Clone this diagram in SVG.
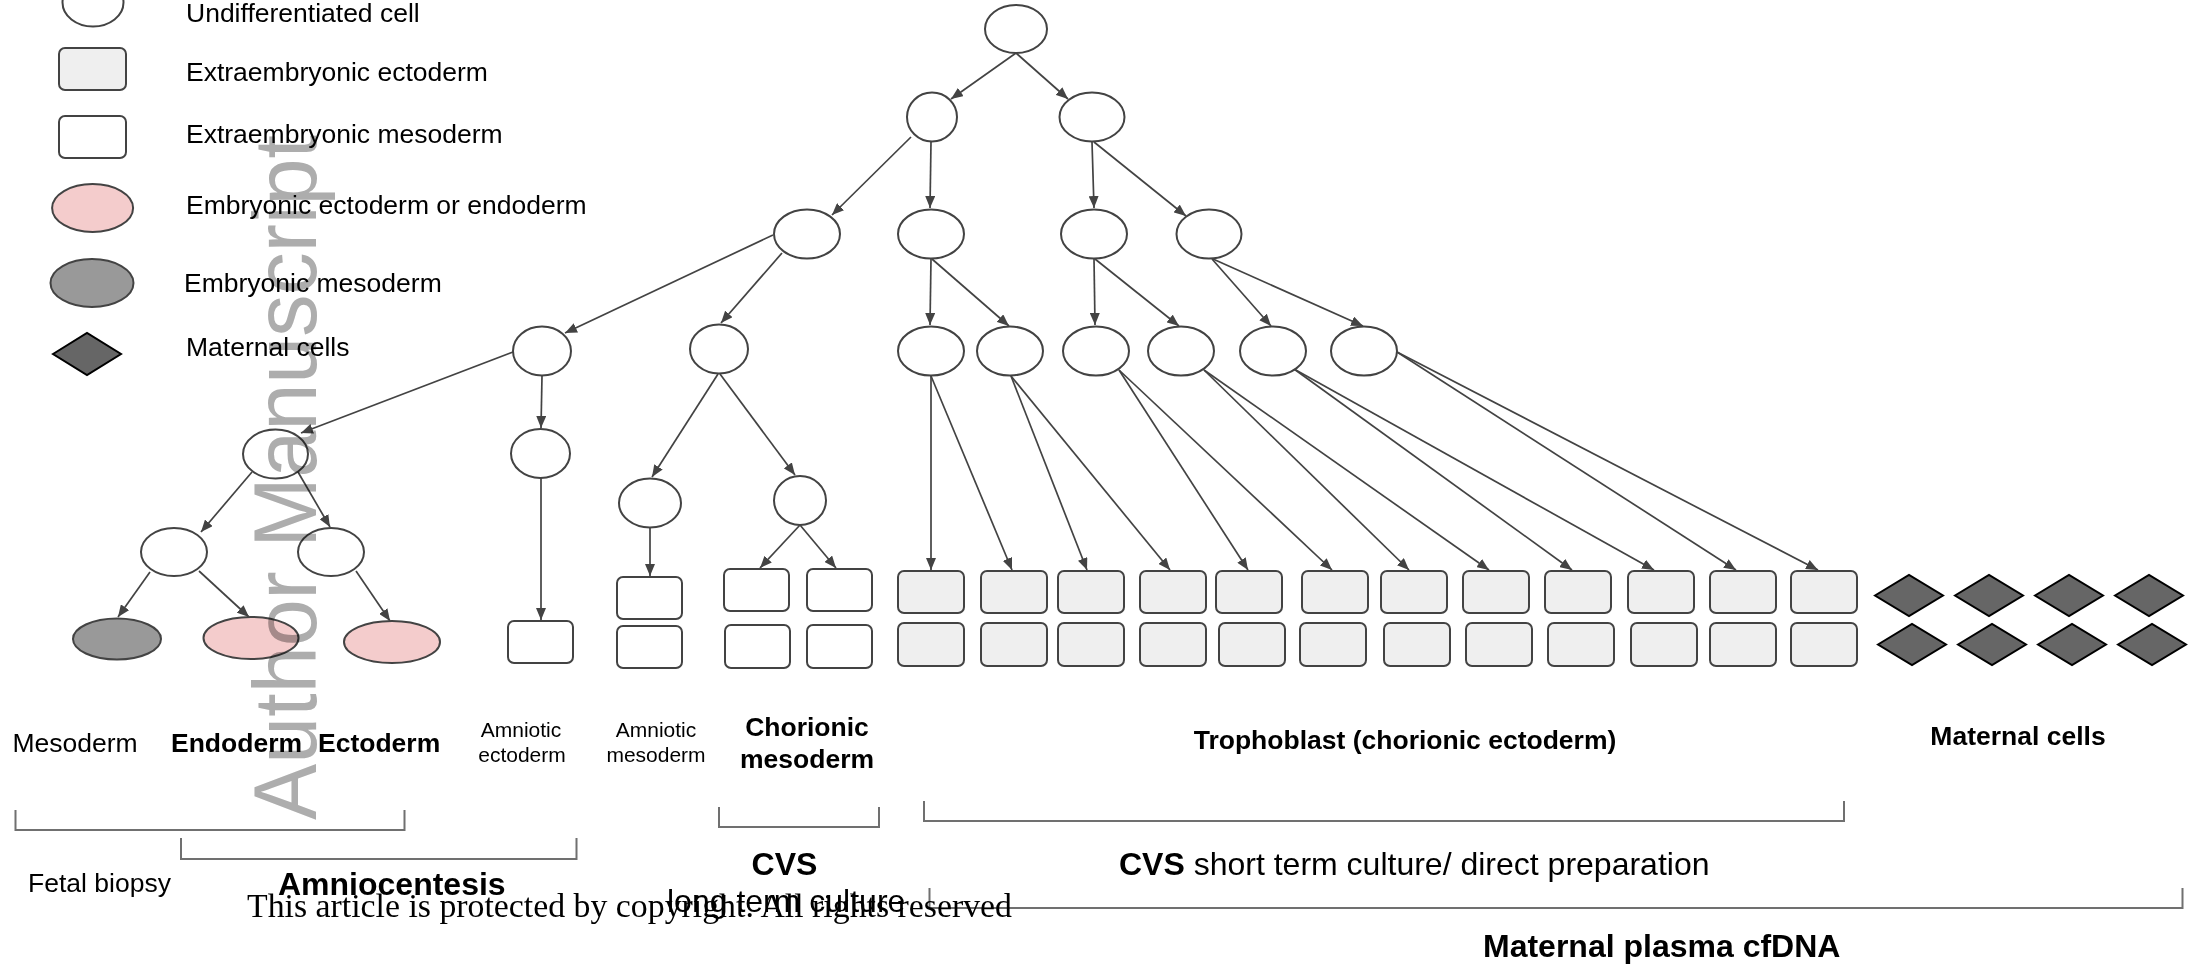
<svg xmlns="http://www.w3.org/2000/svg" width="2198" height="969" viewBox="0 0 2198 969">
<style>
.c{fill:#fff;stroke:#434343;stroke-width:2}
.ee{fill:#efefef;stroke:#434343;stroke-width:2}
.em{fill:#fff;stroke:#434343;stroke-width:2}
.pk{fill:#f4cccc;stroke:#434343;stroke-width:2}
.gy{fill:#999;stroke:#434343;stroke-width:2}
.dm{fill:#666;stroke:#000;stroke-width:2}
.e{fill:none;stroke:#434343;stroke-width:1.7;marker-end:url(#ah)}
.br{fill:none;stroke:#707070;stroke-width:2}
text{font-family:"Liberation Sans",Arial,sans-serif;fill:#000}
.lg{font-size:26.5px}
.lb{font-size:26.5px}
.b{font-weight:bold}
.sm{font-size:21px}
.big{font-size:32px}
</style>
<defs>
<marker id="ah" viewBox="0 0 12 10" refX="12" refY="5" markerWidth="12" markerHeight="10" markerUnits="userSpaceOnUse" orient="auto">
<path d="M0,0 L12,5 L0,10 z" fill="#434343"/>
</marker>
</defs>

<g id="legend">
<ellipse class="c" cx="93" cy="2.5" rx="30.5" ry="24"/>
<text class="lg" x="186" y="22">Undifferentiated cell</text>
<rect class="ee" x="59" y="48" width="67" height="42" rx="6"/>
<text class="lg" x="186" y="81">Extraembryonic ectoderm</text>
<rect class="em" x="59" y="116" width="67" height="42" rx="6"/>
<text class="lg" x="186" y="143">Extraembryonic mesoderm</text>
<ellipse class="pk" cx="92.6" cy="208" rx="40.5" ry="24"/>
<text class="lg" x="186" y="214">Embryonic ectoderm or endoderm</text>
<ellipse class="gy" cx="92" cy="283" rx="41.5" ry="24"/>
<text class="lg" x="184" y="292">Embryonic mesoderm</text>
<polygon class="dm" points="53,354 87,333 121,354 87,375"/>
<text class="lg" x="186" y="356">Maternal cells</text>
</g>

<g id="connectors">
<line class="e" x1="1016" y1="53" x2="951" y2="99"/>
<line class="e" x1="1016" y1="53" x2="1068" y2="99"/>
<line class="e" x1="911" y1="137" x2="832" y2="215"/>
<line class="e" x1="931" y1="142" x2="930" y2="208"/>
<line class="e" x1="1092" y1="142" x2="1094" y2="208"/>
<line class="e" x1="1094" y1="142" x2="1186" y2="216"/>
<line class="e" x1="931" y1="259" x2="930" y2="325"/>
<line class="e" x1="932" y1="259" x2="1009" y2="326"/>
<line class="e" x1="1094" y1="259" x2="1095" y2="325"/>
<line class="e" x1="1095" y1="259" x2="1179" y2="326"/>
<line class="e" x1="1212" y1="259" x2="1271" y2="326"/>
<line class="e" x1="1213" y1="259" x2="1363" y2="326"/>
<line class="e" x1="773" y1="235" x2="565" y2="333"/>
<line class="e" x1="782" y1="253" x2="721" y2="323"/>
<line class="e" x1="513" y1="352" x2="301" y2="433"/>
<line class="e" x1="542" y1="376" x2="541" y2="428"/>
<line class="e" x1="541" y1="478" x2="541" y2="620"/>
<line class="e" x1="718" y1="374" x2="652" y2="477"/>
<line class="e" x1="720" y1="374" x2="795" y2="475"/>
<line class="e" x1="650" y1="528" x2="650" y2="576"/>
<line class="e" x1="800" y1="525" x2="760" y2="568"/>
<line class="e" x1="800" y1="525" x2="836" y2="568"/>
<line class="e" x1="252" y1="472" x2="201" y2="532"/>
<line class="e" x1="298" y1="472" x2="330" y2="527"/>
<line class="e" x1="150" y1="572" x2="118" y2="617"/>
<line class="e" x1="199" y1="571" x2="249" y2="617"/>
<line class="e" x1="356" y1="571" x2="390" y2="621"/>
<line class="e" x1="931" y1="376" x2="931" y2="570"/>
<line class="e" x1="931" y1="376" x2="1012" y2="570"/>
<line class="e" x1="1011" y1="376" x2="1087" y2="570"/>
<line class="e" x1="1011" y1="376" x2="1170" y2="570"/>
<line class="e" x1="1119" y1="370" x2="1248" y2="570"/>
<line class="e" x1="1119" y1="370" x2="1332" y2="570"/>
<line class="e" x1="1204" y1="370" x2="1409" y2="570"/>
<line class="e" x1="1204" y1="370" x2="1489" y2="570"/>
<line class="e" x1="1294" y1="369" x2="1572" y2="570"/>
<line class="e" x1="1294" y1="369" x2="1654" y2="570"/>
<line class="e" x1="1397" y1="352" x2="1736" y2="570"/>
<line class="e" x1="1397" y1="352" x2="1818" y2="570"/>
</g>

<g id="n-root"><ellipse class="c" cx="1016" cy="29" rx="31" ry="24"/></g>
<g id="n-1a"><ellipse class="c" cx="932" cy="117" rx="25" ry="24.5"/></g>
<g id="n-1b"><ellipse class="c" cx="1092" cy="117" rx="32.5" ry="24.5"/></g>
<g id="n-2a"><ellipse class="c" cx="807" cy="234" rx="33" ry="24.5"/></g>
<g id="n-2b"><ellipse class="c" cx="931" cy="234" rx="33" ry="24.5"/></g>
<g id="n-2c"><ellipse class="c" cx="1094" cy="234" rx="33" ry="24.5"/></g>
<g id="n-2d"><ellipse class="c" cx="1209" cy="234" rx="32.5" ry="24.5"/></g>
<g id="n-amnion"><ellipse class="c" cx="542" cy="351" rx="29" ry="24.5"/></g>
<g id="n-chorion"><ellipse class="c" cx="719" cy="349" rx="29" ry="24.5"/></g>
<g id="n-t1"><ellipse class="c" cx="931" cy="351" rx="33" ry="24.5"/></g>
<g id="n-t2"><ellipse class="c" cx="1010" cy="351" rx="33" ry="24.5"/></g>
<g id="n-t3"><ellipse class="c" cx="1096" cy="351" rx="33" ry="24.5"/></g>
<g id="n-t4"><ellipse class="c" cx="1181" cy="351" rx="33" ry="24.5"/></g>
<g id="n-t5"><ellipse class="c" cx="1273" cy="351" rx="33" ry="24.5"/></g>
<g id="n-t6"><ellipse class="c" cx="1364" cy="351" rx="33" ry="24.5"/></g>
<g id="n-embryo"><ellipse class="c" cx="275.5" cy="454" rx="32.5" ry="24.5"/></g>
<g id="n-amniotic"><ellipse class="c" cx="540.5" cy="453.5" rx="29.5" ry="24.5"/></g>
<g id="n-emb-l"><ellipse class="c" cx="174" cy="552" rx="33" ry="24"/></g>
<g id="n-emb-r"><ellipse class="c" cx="331" cy="552" rx="33" ry="24"/></g>
<g id="n-cho-l"><ellipse class="c" cx="650" cy="503" rx="31" ry="24.5"/></g>
<g id="n-cho-r"><ellipse class="c" cx="800" cy="500.5" rx="26" ry="24.5"/></g>
<g id="n-mesoderm"><ellipse class="gy" cx="117" cy="639" rx="44" ry="20.5"/></g>
<g id="n-endoderm"><ellipse class="pk" cx="251" cy="638" rx="47.5" ry="21"/></g>
<g id="n-ectoderm"><ellipse class="pk" cx="392" cy="642" rx="48" ry="21"/></g>

<g id="n-amn-ecto"><rect class="em" x="508" y="621" width="65" height="42" rx="6"/></g>
<g id="n-amn-meso">
<rect class="em" x="617" y="577" width="65" height="42" rx="6"/>
<rect class="em" x="617" y="626" width="65" height="42" rx="6"/>
</g>
<g id="n-cho-meso">
<rect class="em" x="724" y="569" width="65" height="42" rx="6"/>
<rect class="em" x="807" y="569" width="65" height="42" rx="6"/>
<rect class="em" x="725" y="625" width="65" height="43" rx="6"/>
<rect class="em" x="807" y="625" width="65" height="43" rx="6"/>
</g>
<g id="n-trophoblast">
<rect class="ee" x="898" y="571" width="66" height="42" rx="6"/>
<rect class="ee" x="981" y="571" width="66" height="42" rx="6"/>
<rect class="ee" x="1058" y="571" width="66" height="42" rx="6"/>
<rect class="ee" x="1140" y="571" width="66" height="42" rx="6"/>
<rect class="ee" x="1216" y="571" width="66" height="42" rx="6"/>
<rect class="ee" x="1302" y="571" width="66" height="42" rx="6"/>
<rect class="ee" x="1381" y="571" width="66" height="42" rx="6"/>
<rect class="ee" x="1463" y="571" width="66" height="42" rx="6"/>
<rect class="ee" x="1545" y="571" width="66" height="42" rx="6"/>
<rect class="ee" x="1628" y="571" width="66" height="42" rx="6"/>
<rect class="ee" x="1710" y="571" width="66" height="42" rx="6"/>
<rect class="ee" x="1791" y="571" width="66" height="42" rx="6"/>
<rect class="ee" x="898" y="623" width="66" height="43" rx="6"/>
<rect class="ee" x="981" y="623" width="66" height="43" rx="6"/>
<rect class="ee" x="1058" y="623" width="66" height="43" rx="6"/>
<rect class="ee" x="1140" y="623" width="66" height="43" rx="6"/>
<rect class="ee" x="1219" y="623" width="66" height="43" rx="6"/>
<rect class="ee" x="1300" y="623" width="66" height="43" rx="6"/>
<rect class="ee" x="1384" y="623" width="66" height="43" rx="6"/>
<rect class="ee" x="1466" y="623" width="66" height="43" rx="6"/>
<rect class="ee" x="1548" y="623" width="66" height="43" rx="6"/>
<rect class="ee" x="1631" y="623" width="66" height="43" rx="6"/>
<rect class="ee" x="1710" y="623" width="66" height="43" rx="6"/>
<rect class="ee" x="1791" y="623" width="66" height="43" rx="6"/>
</g>
<g id="n-maternal">
<polygon class="dm" points="1875,595.5 1909,575 1943,595.5 1909,616"/>
<polygon class="dm" points="1955,595.5 1989,575 2023,595.5 1989,616"/>
<polygon class="dm" points="2035,595.5 2069,575 2103,595.5 2069,616"/>
<polygon class="dm" points="2115,595.5 2149,575 2183,595.5 2149,616"/>
<polygon class="dm" points="1878,644.5 1912,624 1946,644.5 1912,665"/>
<polygon class="dm" points="1958,644.5 1992,624 2026,644.5 1992,665"/>
<polygon class="dm" points="2038,644.5 2072,624 2106,644.5 2072,665"/>
<polygon class="dm" points="2118,644.5 2152,624 2186,644.5 2152,665"/>
</g>

<g id="labels">
<text class="lb" x="12.5" y="752">Mesoderm</text>
<text class="lb b" x="171" y="752">Endoderm</text>
<text class="lb b" x="318" y="752">Ectoderm</text>
<text class="sm" text-anchor="middle" x="521" y="737">Amniotic</text>
<text class="sm" text-anchor="middle" x="522" y="762">ectoderm</text>
<text class="sm" text-anchor="middle" x="656" y="737">Amniotic</text>
<text class="sm" text-anchor="middle" x="656" y="762">mesoderm</text>
<text class="lb b" text-anchor="middle" x="807" y="736">Chorionic</text>
<text class="lb b" text-anchor="middle" x="807" y="768">mesoderm</text>
<text class="lb b" text-anchor="middle" x="1405" y="749">Trophoblast (chorionic ectoderm)</text>
<text class="lb b" text-anchor="middle" x="2018" y="745">Maternal cells</text>
</g>

<g id="brackets">
<path class="br" d="M15.5,810 V830 H404.5 V810"/>
<path class="br" d="M181,838 V859 H576.5 V838"/>
<path class="br" d="M719,807 V827 H879 V807"/>
<path class="br" d="M924,801 V821 H1844 V801"/>
<path class="br" d="M929.5,888 V908 H2182.5 V888"/>
</g>

<g id="methods">
<text class="lb" x="28" y="892">Fetal biopsy</text>
<text class="big b" x="278" y="895">Amniocentesis</text>
<text class="big b" text-anchor="middle" x="784.5" y="875">CVS</text>
<text class="big" x="667" y="912">long term culture</text>
<text class="big" x="1119" y="875"><tspan class="b">CVS</tspan> short term culture/ direct preparation</text>
<text class="big b" x="1483" y="957">Maternal plasma cfDNA</text>
</g>

<text id="watermark" x="316" y="820" transform="rotate(-90 316 820)" font-size="89" textLength="685" lengthAdjust="spacingAndGlyphs" style="fill:#adadad;mix-blend-mode:multiply">Author Manuscript</text>

<text id="footer" x="247" y="917" font-size="33" textLength="765" lengthAdjust="spacingAndGlyphs" style="font-family:'Liberation Serif','Times New Roman',serif">This article is protected by copyright. All rights reserved</text>
</svg>
